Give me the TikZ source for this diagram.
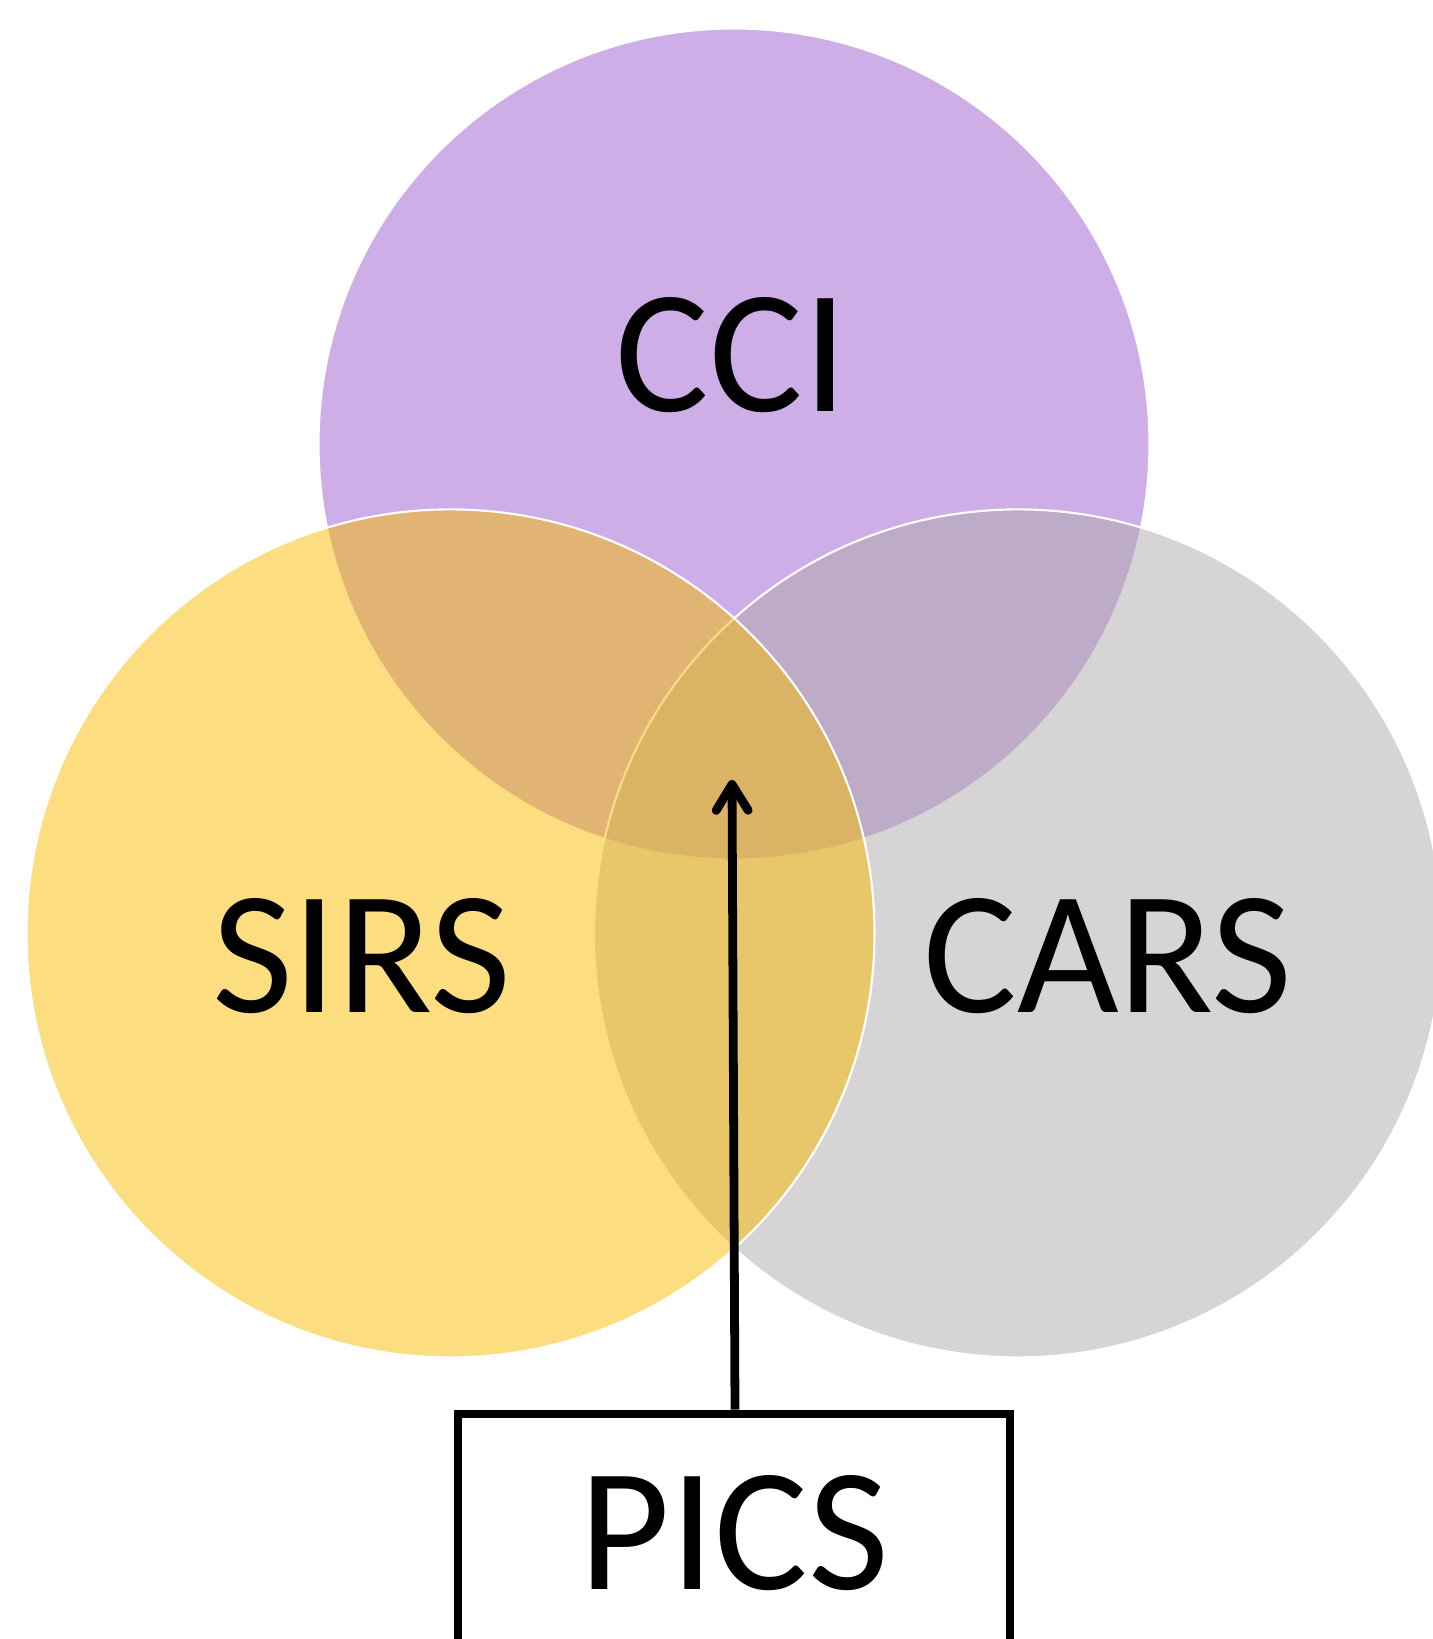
\documentclass[tikz,border=0pt]{standalone}
\usepackage{fontspec}
\setmainfont{Carlito}
\usetikzlibrary{arrows.meta,positioning}
\definecolor{cciPurple}{RGB}{155,93,205}
\definecolor{carsGray}{RGB}{173,169,171}
\definecolor{sirsGold}{RGB}{249,187,1}

\begin{document}
\begin{tikzpicture}[
    x=1cm,
    y=1cm,
    >={Straight Barb[length=2.6mm, width=3.2mm, round]},
    set/.style={circle, fill opacity=0.5, draw=white, line width=0.6pt, inner sep=0pt, outer sep=0pt},
    settext/.style={font=\fontsize{50}{60}\selectfont, inner sep=0pt},
    tagbox/.style={draw, line width=2.5pt, minimum width=5.52cm, minimum height=2.376cm, inner sep=0pt, font=\fontsize{50}{60}\selectfont},
    line/.style={->, line width=2.5pt}
]
\useasboundingbox (0,0) rectangle (14.33,16.39);

% the three sets
\node[set, fill=cciPurple, minimum size=8.31cm] (cci) at (7.34,11.95) {};
\node[set, fill=carsGray, minimum size=8.48cm] (cars) at (10.18,7.056) {};
\node[set, fill=sirsGold, minimum size=8.48cm] (sirs) at (4.505,7.056) {};

\node[settext] (ccitext) at (7.316,12.84) {CCI};
\node[settext] (sirstext) at (3.616,6.83) {SIRS};
\node[settext] (carstext) at (11.08,6.83) {CARS};

% box below, pointing at the centre
\node[tagbox] (pics) at (7.34,1.062) {PICS};
\coordinate (centre) at (7.32,8.59);
\draw[line] ([xshift=0.01cm]pics.north) -- (centre);
\end{tikzpicture}
\end{document}
